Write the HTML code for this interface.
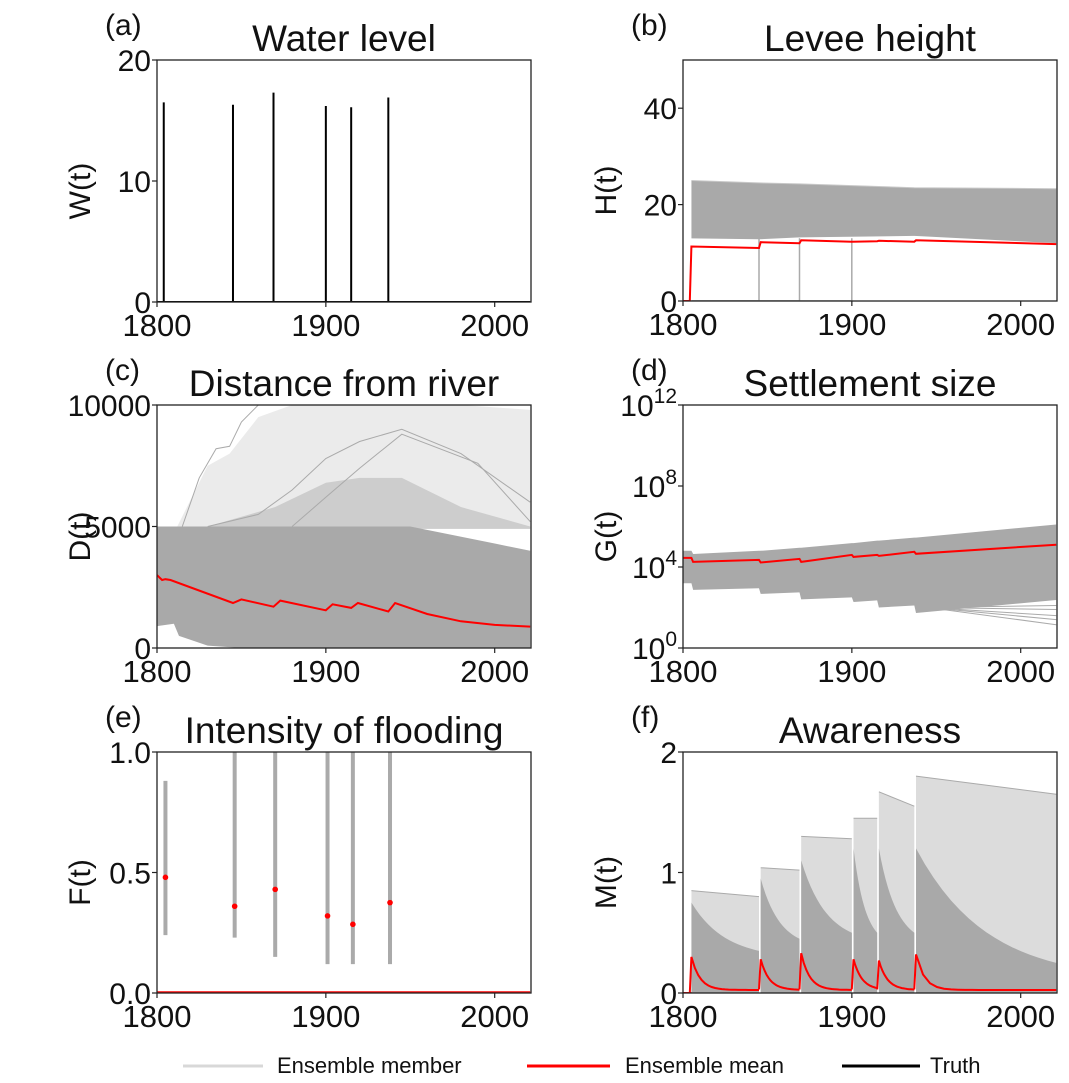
<!DOCTYPE html>
<html><head><meta charset="utf-8"><style>
html,body{margin:0;padding:0;background:#fff}
svg{display:block;font-family:"Liberation Sans","DejaVu Sans",sans-serif}
</style></head><body>
<svg id="fig" width="1069" height="1083" viewBox="0 0 1069 1083" xmlns="http://www.w3.org/2000/svg"></svg>
<script>
// ---- data ----
const floodYears=[1804,1845,1869,1900,1915,1937];
const waterLevels=[16.5,16.3,17.3,16.2,16.1,16.9];
const xTicks=[1800,1900,2000];
// (b) levee
const hMeanYears=[1800,1804,1805,1845,1846,1869,1870,1900,1915,1916,1937,1938,2021];
const hMeanVals=[0,0,11.3,11,12.2,12,12.6,12.3,12.4,12.5,12.3,12.6,11.8];
const hBandYears=[1805,1845,1869,1937,2021];
const hBandHigh=[25,24.5,24.3,23.5,23.3];
const hBandLow=[13,12.8,13.2,13.5,12];
const hZeroYears=[1845,1869,1900];
const hTicks=[0,20,40];
// (c) distance
const dMeanYears=[1800,1803,1805,1808,1845,1850,1869,1873,1900,1904,1915,1919,1937,1941,1960,1980,2000,2021];
const dMeanVals=[3000,2800,2830,2800,1850,2000,1700,1950,1550,1800,1650,1850,1500,1850,1400,1100,950,880];
const dBandYears=[1800,1810,1813,1830,1850,1900,1950,2000,2021];
const dBandHigh=[5000,5000,5000,5000,5000,5000,5000,4300,4000];
const dBandLow=[900,1000,500,100,0,0,0,0,0];
const dSparseYears=[1812,1830,1843,1860,1880,1900,1920,1945,1980,2021];
const dSparseHigh=[5000,7500,8000,9500,10000,10000,10000,10000,10000,9800];
const dDenseYears=[1830,1870,1900,1920,1945,1980,2021];
const dDenseHigh=[5000,5800,6800,7000,7000,5800,5000];
const dMember1=[5000,7000,8200,8300,9300,10000];
const dMember2=[5000,5500,6500,7800,8500,9000,8000,6000];
const dMember3=[5000,6200,7400,8800,7600,5200];
const dM1Years=[1815,1825,1835,1843,1850,1860];
const dM2Years=[1830,1860,1880,1900,1920,1945,1980,2021];
const dM3Years=[1880,1900,1920,1945,1990,2021];
const dTicks=[0,5000,10000];
// (d) settlement (log10 values)
const gMeanYears=[1800,1805,1806,1845,1846,1869,1870,1900,1901,1915,1916,1937,1938,2021];
const gMeanLog=[4.45,4.45,4.25,4.35,4.22,4.4,4.25,4.6,4.5,4.6,4.55,4.75,4.65,5.1];
const gBandYears=[1800,1805,1806,1845,1846,1869,1870,1900,1901,1915,1916,1937,1938,2021];
const gBandHigh=[4.8,4.8,4.64,4.8,4.8,4.95,4.95,5.18,5.18,5.3,5.3,5.45,5.45,6.1];
const gBandLow=[3.2,3.2,2.87,2.95,2.67,2.75,2.4,2.5,2.27,2.35,2.0,2.1,1.73,2.37];
const gFanLow=[2.1,1.9,1.6,1.4,1.15];
const gTicks=[0,4,8,12];
// (e) intensity
const fLow=[0.24,0.23,0.15,0.12,0.12,0.12];
const fHigh=[0.88,1,1,1,1,1];
const fMean=[0.48,0.36,0.43,0.32,0.285,0.375];
const fTicks=[0,0.5,1];
// (f) awareness
const mPeaks=[0.3,0.28,0.33,0.28,0.27,0.32];
const mDenseTop=[0.75,0.95,1.1,1.2,1.2,1.2];
const mDenseEnd=[0.35,0.45,0.5,0.5,0.5,0.25];
const mMaxTop=[0.85,1.04,1.3,1.45,1.67,1.8];
const mMaxEnd=[0.8,1.02,1.28,1.45,1.55,1.65];
const mTicks=[0,1,2];

const NS="http://www.w3.org/2000/svg";
const svg=document.getElementById('fig');
function el(tag,attrs,parent,txt){const e=document.createElementNS(NS,tag);for(const k in attrs)e.setAttribute(k,attrs[k]);if(txt!==undefined)e.textContent=txt;(parent||svg).appendChild(e);return e;}

function panel(name,letter,title,ylab,x0,x1,y0,y1,ymin,ymax,yt,ytl){
  const g=el('g',{},svg);
  
  
  const sx=v=>x0+(v-1800)/(2021.5-1800)*(x1-x0);
  const sy=v=>y1-(v-ymin)/(ymax-ymin)*(y1-y0);
  const plot=el('g',{},g);
  
  
  const cid='c'+name;
  const cp=el('clipPath',{id:cid},g);el('rect',{x:x0,y:y0,width:x1-x0,height:y1-y0},cp);
  plot.setAttribute('clip-path','url(#'+cid+')');
  const post=()=>{
    const fr=el('rect',{x:x0,y:y0,width:x1-x0,height:y1-y0,fill:'none',stroke:'#222','stroke-width':1.3},g);
    
    xTicks.forEach(t=>{const x=sx(t);el('line',{x1:x,x2:x,y1:y1,y2:y1+5,stroke:'#222','stroke-width':1.2},g);
      const tx=el('text',{x:x,y:y1+34,'font-size':31,'text-anchor':'middle',fill:'#111'},g,String(t));
      });
    yt.forEach((t,i)=>{const y=sy(t);el('line',{x1:x0-5,x2:x0,y1:y,y2:y,stroke:'#222','stroke-width':1.2},g);
      const lab=ytl[i];
      const tx=el('text',{x:x0-6,y:y+11,'font-size':30,'text-anchor':'end',fill:'#111'},g);
      if(typeof lab==='object'){tx.textContent=lab[0];el('tspan',{dy:-13,'font-size':21},tx,lab[1]);}else tx.textContent=lab;
      });
    const tt=el('text',{x:(x0+x1)/2,y:y0-9,'font-size':37,'text-anchor':'middle',fill:'#111'},g,title);
    
    const lt=el('text',{x:x0-52,y:y0-25,'font-size':30,fill:'#111'},g,letter);
    
    const yl=el('text',{x:0,y:0,'font-size':30,'text-anchor':'middle',fill:'#111',transform:`translate(${x0-67},${(y0+y1)/2+10}) rotate(-90)`},g,ylab);
    
  };
  return {g,plot,sx,sy,post};
}
function line(p,xs,ys,attrs){return el('polyline',Object.assign({points:xs.map((x,i)=>p.sx(x).toFixed(1)+','+p.sy(ys[i]).toFixed(1)).join(' '),fill:'none'},attrs),p.plot);}
function band(p,xs,hi,lo,fill){const pts=xs.map((x,i)=>p.sx(x)+','+p.sy(hi[i])).concat(xs.slice().reverse().map((x,i)=>p.sx(x)+','+p.sy(lo[lo.length-1-i])));return el('polygon',{points:pts.join(' '),fill:fill},p.plot);}

// (a)
const pa=panel('water-level-panel','(a)','Water level','W(t)',157,531,60,302,0,20,[0,10,20],['0','10','20']);
floodYears.forEach((yr,i)=>{const l=el('line',{x1:pa.sx(yr),x2:pa.sx(yr),y1:pa.sy(0),y2:pa.sy(waterLevels[i]),stroke:'#000','stroke-width':2},pa.plot);
  });
line(pa,[1800,2021],[0,0],{stroke:'#000','stroke-width':2});
pa.post();

// (b)
const pb=panel('levee-height-panel','(b)','Levee height','H(t)',683,1057,60,301,0,50,hTicks,['0','20','40']);
const bb=band(pb,hBandYears,hBandHigh,hBandLow,'#a9a9a9');
hZeroYears.forEach(yr=>{line(pb,[1805,yr,yr],[0,0,13],{stroke:'#aaa','stroke-width':1.5});});
line(pb,hBandYears,hBandHigh,{stroke:'#c8c8c8','stroke-width':1});
const hm=line(pb,hMeanYears,hMeanVals,{stroke:'#f00','stroke-width':2});
pb.post();

// (c)
const pc=panel('distance-panel','(c)','Distance from river','D(t)',157,531,405,648,0,10000,dTicks,['0','5000','10000']);
band(pc,dSparseYears,dSparseHigh,dSparseYears.map(()=>4900),'#ebebeb');
band(pc,dDenseYears,dDenseHigh,dDenseYears.map(()=>4900),'#cdcdcd');
[[dM1Years,dMember1],[dM2Years,dMember2],[dM3Years,dMember3]].forEach(m=>{const l=line(pc,m[0],m[1],{stroke:'#aaa','stroke-width':1});});
const cb=band(pc,dBandYears,dBandHigh,dBandLow,'#a9a9a9');
const cm=line(pc,dMeanYears,dMeanVals,{stroke:'#f00','stroke-width':2});
pc.post();

// (d)
const pd=panel('settlement-panel','(d)','Settlement size','G(t)',683,1057,405,648,0,12,gTicks,[['10','0'],['10','4'],['10','8'],['10','12']]);
gFanLow.forEach(v=>line(pd,[1945,2021],[2.0,v],{stroke:'#aaa','stroke-width':1}));
const db=band(pd,gBandYears,gBandHigh,gBandLow,'#a9a9a9');
const dm=line(pd,gMeanYears,gMeanLog,{stroke:'#f00','stroke-width':2});
pd.post();

// (e)
const pe=panel('flood-intensity-panel','(e)','Intensity of flooding','F(t)',157,531,752,993,0,1,fTicks,['0.0','0.5','1.0']);
line(pe,[1800,2021],[0.003,0.003],{stroke:'#f00','stroke-width':2});
floodYears.forEach((yr,i)=>{const b=el('line',{x1:pe.sx(yr+1),x2:pe.sx(yr+1),y1:pe.sy(fLow[i]),y2:pe.sy(fHigh[i]),stroke:'#aaa','stroke-width':4},pe.plot);
  
  const c=el('circle',{cx:pe.sx(yr+1),cy:pe.sy(fMean[i]),r:2.8,fill:'#f00'},pe.plot);
  });
pe.post();

// (f)
const pf=panel('awareness-panel','(f)','Awareness','M(t)',683,1057,752,993,0,2,mTicks,['0','1','2']);
const ends=floodYears.slice(1).concat([2021]);
floodYears.forEach((yr,i)=>{
  const s=yr+1,e=ends[i];
  band(pf,[s,e],[mMaxTop[i],mMaxEnd[i]],[0,0],'#dcdcdc');
  line(pf,[s,e],[mMaxTop[i],mMaxEnd[i]],{stroke:'#aaa','stroke-width':1});
  const xs=[],hi=[],lo=[];for(let k=0;k<=16;k++){const t=s+(e-s)*k/16;const f=1-Math.exp(-(t-s)/((e-s)*0.5));xs.push(t);hi.push(mDenseTop[i]+(mDenseEnd[i]-mDenseTop[i])*f/(1-Math.exp(-2)));lo.push(0);}
  const db2=band(pf,xs,hi,lo,'#a9a9a9');
  
  const mx=[],my=[];for(let k=0;k<=20;k++){const t=s+(e-s)*k/20;mx.push(t);my.push(0.025+(mPeaks[i]-0.025)*Math.exp(-(t-s)/5));}
  const m=line(pf,[yr].concat(mx),[i===0?0:0.03].concat(my),{stroke:'#f00','stroke-width':2});
  
});
line(pf,[1800,1805],[0,0],{stroke:'#f00','stroke-width':2});
pf.post();

// legend
const lg=el('g',{},svg);
[[183,263,'#d8d8d8',277,'Ensemble member'],[527,610,'#f00',625,'Ensemble mean'],[842,920,'#000',930,'Truth']].forEach(d=>{
  const it=el('g',{},lg);
  el('line',{x1:d[0],x2:d[1],y1:1066,y2:1066,stroke:d[2],'stroke-width':3},it);
  el('text',{x:d[3],y:1073,'font-size':22,fill:'#111'},it,d[4]);
});
</script>
</body></html>
